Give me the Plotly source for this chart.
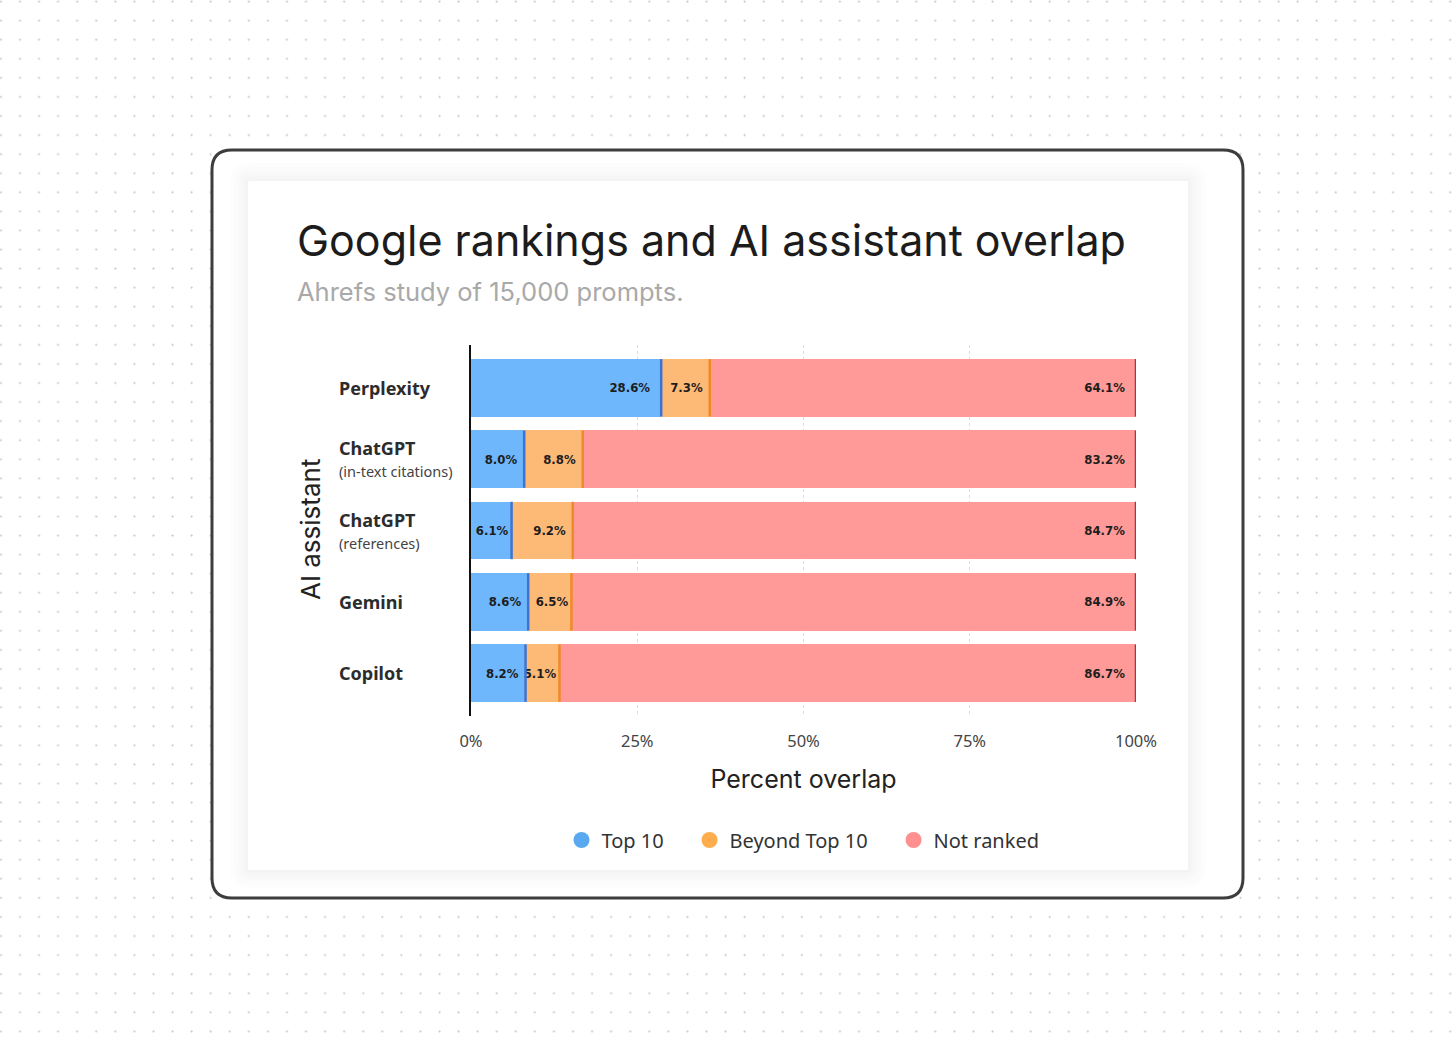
import base64
import plotly.graph_objects as go

W, H = 1456, 1048

# data
assistants = ["Perplexity", "ChatGPT (in-text citations)", "ChatGPT (references)", "Gemini", "Copilot"]
label_main = ["Perplexity", "ChatGPT", "ChatGPT", "Gemini", "Copilot"]
label_sub = ["", "(in-text citations)", "(references)", "", ""]
top10 = [28.6, 8.0, 6.1, 8.6, 8.2]
beyond_top10 = [7.3, 8.8, 9.2, 6.5, 5.1]
not_ranked = [64.1, 83.2, 84.7, 84.9, 86.7]
tick_vals = [0, 25, 50, 75, 100]
tick_text = ["0%", "25%", "50%", "75%", "100%"]

series = [
    ("Top 10", top10, "rgba(99,178,252,0.93)", "#3b74d6", "#5aa9f0"),
    ("Beyond Top 10", beyond_top10, "rgba(253,180,108,0.93)", "#f08a24", "#fdad4e"),
    ("Not ranked", not_ranked, "rgba(255,146,144,0.93)", "#c22a36", "#ff9090"),
]

FONT = "Noto Sans, Inter, DejaVu Sans, sans-serif"
HEAD_FONT = "Inter, Noto Sans, sans-serif"
BAR_FONT = "Liberation Sans Narrow, DejaVu Sans Condensed, Roboto, sans-serif"
NBSP = "\u00a0"


def px(x):
    return x / W


def py(y):
    return 1 - y / H


def rounded_rect(x0, y0, x1, y1, r):
    # pixel coords -> svg path in paper units
    pts = [
        ("M", [(x0 + r, y0)]),
        ("L", [(x1 - r, y0)]),
        ("Q", [(x1, y0), (x1, y0 + r)]),
        ("L", [(x1, y1 - r)]),
        ("Q", [(x1, y1), (x1 - r, y1)]),
        ("L", [(x0 + r, y1)]),
        ("Q", [(x0, y1), (x0, y1 - r)]),
        ("L", [(x0, y0 + r)]),
        ("Q", [(x0, y0), (x0 + r, y0)]),
    ]
    out = ""
    for cmd, coords in pts:
        out += cmd + " ".join(f"{px(a):.5f},{py(b):.5f}" for a, b in coords)
    return out + "Z"


fig = go.Figure()

# stacked bars
cumulative = [0] * len(assistants)
for name, vals, color, edge, legcolor in series:
    labels = [f"{v:.1f}%" + (NBSP * 2 if v >= 20 else NBSP if v >= 7 else "") for v in vals]
    fig.add_trace(go.Bar(
        y=assistants, x=vals, orientation="h", name=name,
        marker=dict(color=color, line=dict(width=0)),
        text=labels,
        textposition="inside", insidetextanchor="end", textangle=0,
        textfont=dict(family=BAR_FONT, size=13, color="#1d1d1d", weight="bold"),
        width=0.81, showlegend=False, hoverinfo="skip",
    ))
    cumulative = [c + v for c, v in zip(cumulative, vals)]
    # darker right edge of each segment
    fig.add_trace(go.Scatter(
        x=cumulative, y=assistants, mode="markers", showlegend=False, hoverinfo="skip",
        marker=dict(symbol="line-ns", size=41, line=dict(color=edge, width=2.5)),
    ))

# legend entries as circles
pads = [NBSP * 4, NBSP * 4, ""]
for (name, vals, color, edge, legcolor), pad in zip(series, pads):
    fig.add_trace(go.Scatter(
        x=[None], y=[None], mode="markers", name=name + pad,
        marker=dict(symbol="circle", size=20, color=legcolor),
    ))

# background: dotted canvas
svg = (
    f'<svg xmlns="http://www.w3.org/2000/svg" width="{W}" height="{H}">'
    '<defs><pattern id="d" x="-0.6" y="0.1" width="19.07" height="19.07" patternUnits="userSpaceOnUse">'
    '<circle cx="1.5" cy="1.5" r="1.1" fill="#c6c6c6"/></pattern></defs>'
    '<rect width="100%" height="100%" fill="url(#d)"/></svg>'
)
bg_src = "data:image/svg+xml;base64," + base64.b64encode(svg.encode()).decode()

shapes = [
    dict(type="path", xref="paper", yref="paper", path=rounded_rect(212, 150, 1243, 898, 20),
         fillcolor="white", line=dict(color="#3d3d3d", width=3), layer="below"),
]
for grow in [18, 14, 10, 7, 4, 2]:
    shapes.append(dict(type="path", xref="paper", yref="paper",
                       path=rounded_rect(248 - grow, 181 - grow, 1188 + grow, 870 + grow, grow + 2),
                       fillcolor="rgba(210,210,225,0.055)", line=dict(width=0), layer="below"))
shapes.append(dict(type="rect", xref="paper", yref="paper",
                   x0=px(248), x1=px(1188), y0=py(870), y1=py(181),
                   fillcolor="white", line=dict(width=0), layer="below"))

annotations = [
    dict(text="Google rankings and AI assistant overlap", x=px(295), y=py(240), xref="paper", yref="paper",
         xanchor="left", yanchor="middle", showarrow=False,
         font=dict(family=HEAD_FONT, size=43, color="#1c1c1c")),
    dict(text="Ahrefs study of 15,000 prompts.", x=px(295), y=py(291), xref="paper", yref="paper",
         xanchor="left", yanchor="middle", showarrow=False,
         font=dict(family=HEAD_FONT, size=25.5, color="#a9a9a9")),
    dict(text="AI assistant", x=px(310), y=py(530), xref="paper", yref="paper", textangle=-90,
         xanchor="center", yanchor="middle", showarrow=False,
         font=dict(family=HEAD_FONT, size=26, color="#222222")),
]
for cat, main, sub in zip(assistants, label_main, label_sub):
    annotations.append(dict(text=main, x=px(337), y=cat, xref="paper", yref="y",
                            xanchor="left", yanchor="middle", showarrow=False,
                            yshift=11 if sub else 0,
                            font=dict(family=FONT, size=18, color="#2c2c2c", weight="bold")))
    if sub:
        annotations.append(dict(text=sub, x=px(337), y=cat, xref="paper", yref="y",
                                xanchor="left", yanchor="middle", showarrow=False, yshift=-12,
                                font=dict(family=FONT, size=14.5, color="#444444")))

fig.update_layout(
    width=W, height=H,
    margin=dict(l=0, r=0, t=0, b=0),
    paper_bgcolor="white",
    plot_bgcolor="rgba(0,0,0,0)",
    barmode="stack",
    bargap=0.19,
    images=[dict(source=bg_src, xref="paper", yref="paper", x=0, y=1, sizex=1, sizey=1,
                 xanchor="left", yanchor="top", sizing="stretch", layer="below")],
    shapes=shapes,
    annotations=annotations,
    legend=dict(orientation="h", traceorder="normal", x=px(803), xanchor="center", y=py(840),
                yanchor="middle", bgcolor="rgba(0,0,0,0)",
                font=dict(family=FONT, size=20, color="#333333")),
    xaxis=dict(domain=[px(471), px(1136)], range=[0, 100], tickvals=tick_vals, ticktext=tick_text,
               showgrid=True, gridcolor="#dcdcdc", griddash="dot", gridwidth=1,
               zeroline=False, showline=False, ticks="outside", ticklen=10,
               tickcolor="rgba(0,0,0,0)", tickfont=dict(family=FONT, size=16.5, color="#444444"),
               automargin=False,
               title=dict(text="Percent overlap", standoff=19,
                          font=dict(family=HEAD_FONT, size=25, color="#222222"))),
    yaxis=dict(domain=[py(716), py(345)], type="category", categoryorder="array",
               categoryarray=assistants, range=[4.6, -0.6], showticklabels=False,
               showgrid=False, zeroline=False, showline=True, linecolor="#111111", linewidth=2,
               ticks="", automargin=False),
    uniformtext=dict(minsize=13, mode="show"),
)

fig.write_html("out.html", config={"displayModeBar": False},
               post_script="document.body.style.margin='0';document.body.style.overflow='hidden';")
